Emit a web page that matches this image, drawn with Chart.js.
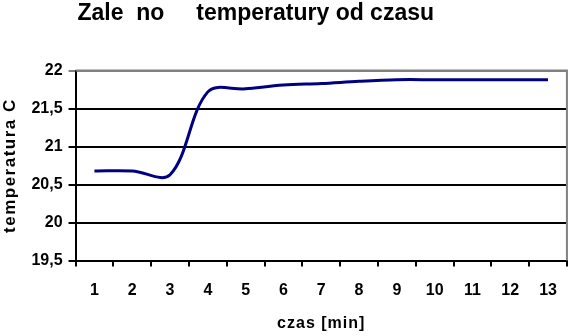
<!DOCTYPE html>
<html>
<head>
<meta charset="utf-8">
<script src="https://cdn.jsdelivr.net/npm/chart.js@4/dist/chart.umd.min.js"></script>
<style>
html,body{margin:0;padding:0;background:#fff;}
#wrap{width:571px;height:336px;position:relative;}
</style>
</head>
<body>
<div id="wrap"><canvas id="c" width="571" height="336"></canvas></div>
<script>
const titleText = "Zale  no     temperatury od czasu";
const xTitle = "czas [min]";
const yTitle = "temperatura C";
const categories = ["1","2","3","4","5","6","7","8","9","10","11","12","13"];
const temperature = [20.68, 20.68, 20.63, 21.72, 21.76, 21.81, 21.83, 21.86, 21.88, 21.88, 21.88, 21.88, 21.88];
const yMin = 19.5, yMax = 22, yStep = 0.5;

const FONT = "'Liberation Sans', Arial, sans-serif";

const frame = {
  id: 'frame',
  beforeDraw(chart) {
    const ctx = chart.ctx;
    const spacing = {x: '1px', y: '1.5px'};
    for (const id of ['x', 'y']) {
      const s = chart.scales[id];
      if (s && !s._lsPatched) {
        const orig = s.drawTitle;
        s.drawTitle = function () {
          ctx.save();
          ctx.letterSpacing = spacing[id];
          orig.apply(this, arguments);
          ctx.restore();
        };
        s._lsPatched = true;
      }
    }
  },
  afterDraw(chart) {
    const {ctx, chartArea: a} = chart;
    ctx.save();
    ctx.strokeStyle = '#808080';
    ctx.lineWidth = 2;
    ctx.beginPath();
    ctx.moveTo(a.left, a.top);
    ctx.lineTo(a.right, a.top);
    ctx.lineTo(a.right, a.bottom);
    ctx.stroke();
    ctx.restore();
  }
};

new Chart(document.getElementById('c'), {
  type: 'line',
  data: {
    labels: categories,
    datasets: [{
      data: temperature,
      borderColor: '#000080',
      borderWidth: 3,
      pointRadius: 0,
      tension: 0.35,
      fill: false
    }]
  },
  options: {
    responsive: false,
    animation: false,
    devicePixelRatio: 1,
    layout: {padding: {left: 0, right: 2, top: 0, bottom: 0}},
    plugins: {
      legend: {display: false},
      tooltip: {enabled: false},
      title: {
        display: true,
        text: titleText + "\u00a0\u00a0\u00a0\u00a0\u00a0\u00a0\u00a0\u00a0\u00a0",
        color: '#000',
        font: {family: FONT, size: 23, weight: 'bold'},
        padding: {top: 0, bottom: 43}
      }
    },
    scales: {
      x: {
        type: 'category',
        offset: true,
        grid: {offset: true, drawOnChartArea: false, drawTicks: true, tickLength: 6, color: '#000', lineWidth: 2},
        border: {display: true, color: '#000', width: 2},
        ticks: {color: '#000', font: {family: FONT, size: 16, weight: 'bold'}, padding: 14, maxRotation: 0, autoSkip: false},
        title: {display: true, text: xTitle, color: '#000', font: {family: FONT, size: 16, weight: 'bold'}, padding: {top: 0, bottom: 3}}
      },
      y: {
        min: yMin, max: yMax,
        ticks: {
          stepSize: yStep, color: '#000',
          font: {family: FONT, size: 16, weight: 'bold'},
          padding: 6,
          callback: v => String(v).replace('.', ',')
        },
        grid: {
          color: ctx => (ctx.tick && ctx.tick.value === yMax) ? '#808080' : '#000',
          lineWidth: 2, tickLength: 7
        },
        border: {display: true, color: '#000', width: 2},
        title: {display: true, text: yTitle, color: '#000', font: {family: FONT, size: 17, weight: 'bold'}, padding: {top: 0, bottom: 5}}
      }
    }
  },
  plugins: [frame]
});
</script>
</body>
</html>
